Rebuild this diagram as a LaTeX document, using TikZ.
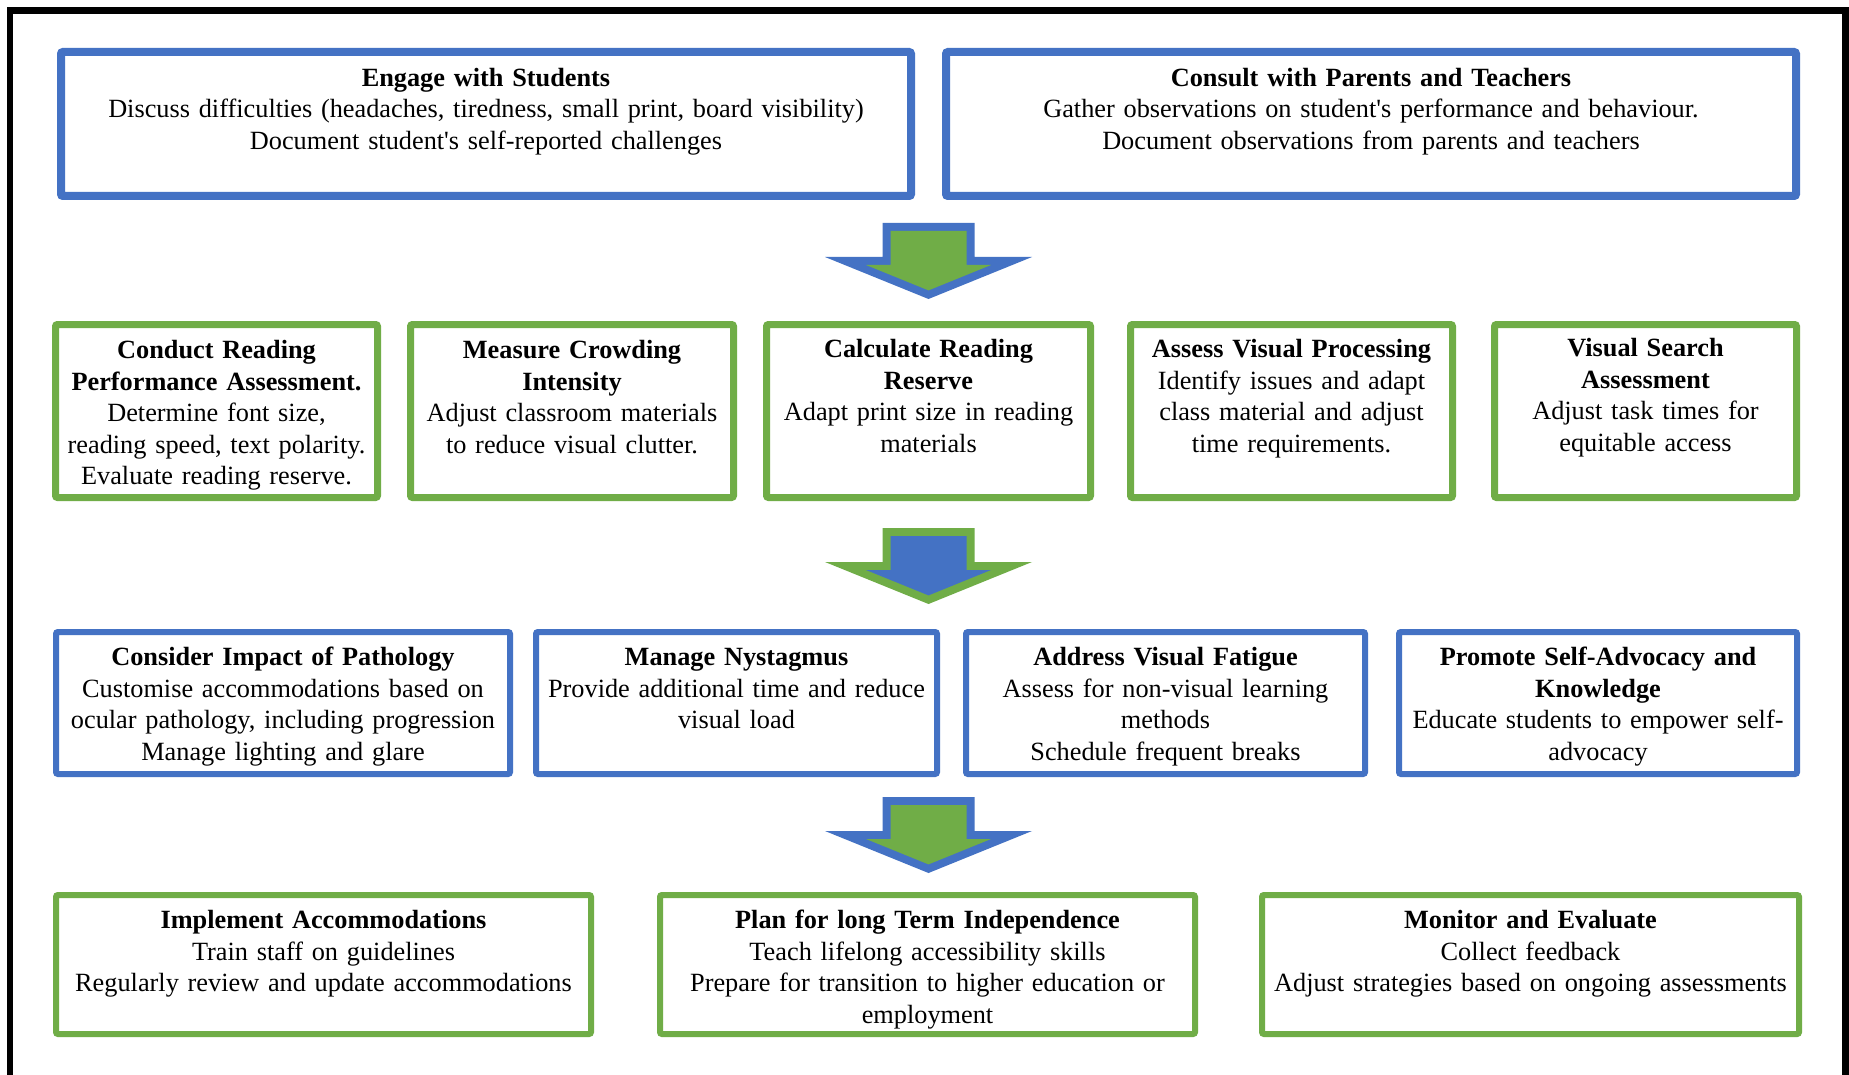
\documentclass[tikz,border=0pt]{standalone}
\usepackage{fontspec}
\setmainfont{Liberation Serif}
\definecolor{cardblue}{HTML}{4472C4}
\definecolor{cardgreen}{HTML}{70AD47}

% \card{name}{style}{x1}{y1}{x2}{y2}{first-baseline offset}{text}
\newcommand{\card}[8]{%
  \pgfmathsetmacro{\cardw}{#5-#3}%
  \pgfmathsetmacro{\cardh}{#6-#4}%
  \pgfmathsetmacro{\cardtw}{#5-#3-10}%
  \pgfmathsetmacro{\carddp}{#6-#4-#7}%
  \node[#2, minimum width=\cardw pt, minimum height=\cardh pt,
        text width=\cardtw pt, text height=#7pt, text depth=\carddp pt]
    (#1) at ({(#3+#5)/2},{(#4+#6)/2}) {#8};%
}

\begin{document}
\begin{tikzpicture}[x=1pt,y=-1pt,
  card/.style={rectangle, rounded corners=2pt, fill=white, align=center,
    inner xsep=4pt, inner ysep=0pt, font=\fontsize{26.3}{31.6}\selectfont},
  bluecard/.style={card, draw=cardblue},
  greencard/.style={card, draw=cardgreen},
  pics/flowarrow/.style n args={2}{code={
    \fill[#1] (-46,0) -- (46,0) -- (46,34) -- (103.5,34) -- (0,76)
      -- (-103.5,34) -- (-46,34) -- cycle;
    \fill[#2] (-38,8) -- (38,8) -- (38,42) -- (62.5,42) -- (0,67.4)
      -- (-62.5,42) -- (-38,42) -- cycle;
  }}
]
\useasboundingbox (0,0) rectangle (1849,1075);
\fill[white] (0,0) rectangle (1849,1075);

% page frame, open at the bottom
\draw[line width=6.5pt] (10,1090) -- (10,10.5) -- (1845.5,10.5) -- (1845.5,1090);

% row 1: gathering information
\card{engage}{bluecard, line width=8pt}{61}{52}{911}{196}{34.4}{%
  \textbf{Engage with Students}\\
  Discuss difficulties (headaches, tiredness, small print, board visibility)\\
  Document student\textquotesingle s self-reported challenges}
\card{consult}{bluecard, line width=8pt}{946}{52}{1796}{196}{34.4}{%
  \textbf{Consult with Parents and Teachers}\\
  Gather observations on student\textquotesingle s performance and behaviour.\\
  Document observations from parents and teachers}

\pic at (928.5,223) {flowarrow={cardblue}{cardgreen}};

% row 2: assessments
\card{reading}{greencard, line width=7pt}{55.5}{324.5}{377.5}{497.5}{34}{%
  \textbf{Conduct Reading}\\ \textbf{Performance Assessment.}\\
  Determine font size,\\ reading speed, text polarity.\\
  Evaluate reading reserve.}
\card{crowding}{greencard, line width=7pt}{410.5}{324.5}{733.5}{497.5}{34}{%
  \textbf{Measure Crowding}\\ \textbf{Intensity}\\
  Adjust classroom materials\\ to reduce visual clutter.}
\card{reserve}{greencard, line width=7pt}{766.5}{324.5}{1090.5}{497.5}{33}{%
  \textbf{Calculate Reading}\\ \textbf{Reserve}\\
  Adapt print size in reading\\ materials}
\card{processing}{greencard, line width=7pt}{1130.5}{324.5}{1452.5}{497.5}{33}{%
  \textbf{Assess Visual Processing}\\
  Identify issues and adapt\\ class material and adjust\\ time requirements.}
\card{search}{greencard, line width=7pt}{1494.5}{324.5}{1796.5}{497.5}{32}{%
  \textbf{Visual Search}\\ \textbf{Assessment}\\
  Adjust task times for\\ equitable access}

\pic at (928.5,528) {flowarrow={cardgreen}{cardblue}};

% row 3: specific needs
\card{pathology}{bluecard, line width=6pt}{56}{632}{510}{774}{33.4}{%
  \textbf{Consider Impact of Pathology}\\
  Customise accommodations based on\\
  ocular pathology, including progression\\
  Manage lighting and glare}
\card{nystagmus}{bluecard, line width=6pt}{536}{632}{937}{774}{33.4}{%
  \textbf{Manage Nystagmus}\\
  Provide additional time and reduce\\ visual load}
\card{fatigue}{bluecard, line width=6pt}{966}{632}{1365}{774}{33.4}{%
  \textbf{Address Visual Fatigue}\\
  Assess for non-visual learning\\ methods\\ Schedule frequent breaks}
\card{advocacy}{bluecard, line width=6pt}{1399}{632}{1797}{774}{33.4}{%
  \textbf{Promote Self-Advocacy and}\\ \textbf{Knowledge}\\
  Educate students to empower self-\\ advocacy}

\pic at (928.5,797) {flowarrow={cardblue}{cardgreen}};

% row 4: putting it into practice
\card{implement}{greencard, line width=6pt}{56}{895}{591}{1034}{33.4}{%
  \textbf{Implement Accommodations}\\
  Train staff on guidelines\\
  Regularly review and update accommodations}
\card{independence}{greencard, line width=6pt}{660}{895}{1195}{1034}{33.4}{%
  \textbf{Plan for long Term Independence}\\
  Teach lifelong accessibility skills\\
  Prepare for transition to higher education or\\ employment}
\card{monitor}{greencard, line width=6pt}{1262}{895}{1799}{1034}{33.4}{%
  \textbf{Monitor and Evaluate}\\
  Collect feedback\\
  Adjust strategies based on ongoing assessments}
\end{tikzpicture}
\end{document}
